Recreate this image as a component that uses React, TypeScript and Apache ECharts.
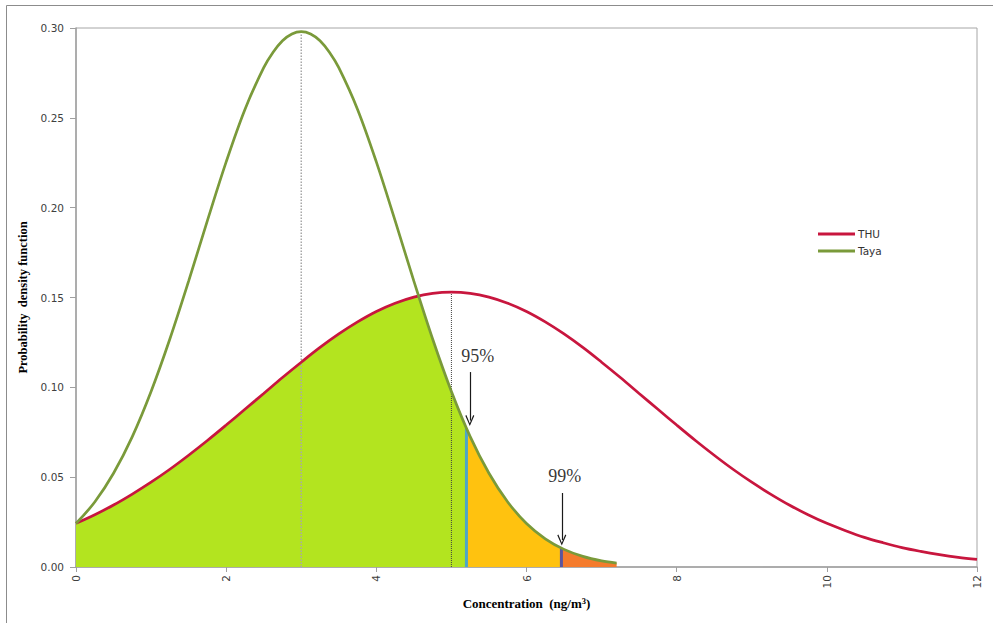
import React, { useEffect, useRef } from "react";
import * as echarts from "echarts";

// Concentration grid (ng/m3)
const thuConc = [0, 0.25, 0.5, 0.75, 1, 1.25, 1.5, 1.75, 2, 2.25, 2.5, 2.75, 3, 3.25, 3.5, 3.75, 4, 4.25, 4.5, 4.75, 5, 5.25, 5.5, 5.75, 6, 6.25, 6.5, 6.75, 7, 7.25, 7.5, 7.75, 8, 8.25, 8.5, 8.75, 9, 9.25, 9.5, 9.75, 10, 10.25, 10.5, 10.75, 11, 11.25, 11.5, 11.75, 12];
const thuPdf = [0.0243, 0.0291, 0.0345, 0.0406, 0.0472, 0.0544, 0.0622, 0.0704, 0.079, 0.0878, 0.0966, 0.1055, 0.114, 0.1222, 0.1297, 0.1364, 0.1422, 0.1468, 0.1502, 0.1523, 0.153, 0.1523, 0.1502, 0.1468, 0.1422, 0.1364, 0.1297, 0.1222, 0.114, 0.1055, 0.0966, 0.0878, 0.079, 0.0704, 0.0622, 0.0544, 0.0472, 0.0406, 0.0345, 0.0291, 0.0243, 0.0202, 0.0165, 0.0135, 0.0108, 0.0087, 0.0069, 0.0054, 0.0042];

const tayaConc = [0, 0.25, 0.5, 0.75, 1, 1.25, 1.5, 1.75, 2, 2.25, 2.5, 2.625, 2.75, 2.875, 3, 3.125, 3.25, 3.375, 3.5, 3.75, 4, 4.25, 4.5, 4.75, 5, 5.25, 5.5, 5.75, 6, 6.25, 6.5, 6.75, 7, 7.2];
const tayaPdf = [0.0242, 0.0362, 0.0522, 0.0726, 0.0977, 0.1269, 0.1591, 0.1928, 0.2255, 0.2547, 0.2779, 0.2865, 0.2929, 0.2967, 0.298, 0.2967, 0.2929, 0.2865, 0.2779, 0.2547, 0.2255, 0.1928, 0.1591, 0.1269, 0.0977, 0.0726, 0.0522, 0.0362, 0.0242, 0.0157, 0.0098, 0.0059, 0.0034, 0.0022];

// Crossing of the two curves
const crossConc = 4.565;
const crossPdf = 0.1509;

// Percentile cuts (95%, 99%) on the Taya curve
const cutLabels = ["95%", "99%"];
const cutConc = [5.2, 6.465];
const cutPdf = [0.0773, 0.0105];

// Modes (dotted verticals)
const modeConc = [3, 5];
const modePdf = [0.298, 0.153];

// Axis ticks
const xTicks = [0, 2, 4, 6, 8, 10, 12];
const yTicks = [0, 0.05, 0.1, 0.15, 0.2, 0.25, 0.3];

const seriesNames = ["THU", "Taya"];

const pairs = (xs: number[], ys: number[]) => xs.map((x, i) => [x, ys[i]]);

export default function App() {
  const ref = useRef<HTMLDivElement>(null);

  useEffect(() => {
    document.body.style.margin = "0";
    if (!ref.current) return;
    const chart = echarts.init(ref.current, undefined, { renderer: "svg" });

    const thu = pairs(thuConc, thuPdf);
    const taya = pairs(tayaConc, tayaPdf);

    const greenFill = [
      ...thu.filter((p) => p[0] < crossConc),
      [crossConc, crossPdf],
      ...taya.filter((p) => p[0] > crossConc && p[0] < cutConc[0]),
      [cutConc[0], cutPdf[0]],
    ];
    const yellowFill = [
      [cutConc[0], cutPdf[0]],
      ...taya.filter((p) => p[0] > cutConc[0] && p[0] < cutConc[1]),
      [cutConc[1], cutPdf[1]],
    ];
    const orangeFill = [
      [cutConc[1], cutPdf[1]],
      ...taya.filter((p) => p[0] > cutConc[1]),
    ];

    const fill = (data: number[][], color: string) => ({
      type: "line",
      data,
      symbol: "none",
      silent: true,
      lineStyle: { width: 0, opacity: 0 },
      areaStyle: { color, opacity: 1 },
      z: 1,
    });

    const vline = (x: number, y: number, color: string, width: number, type: string, z: number) => ({
      type: "line",
      data: [
        [x, 0],
        [x, y],
      ],
      symbol: "none",
      silent: true,
      lineStyle: { color, width, type },
      z,
    });

    const labelFont = "DejaVu Sans";
    const serif = "Liberation Serif";
    const chevron = "path://M5,0 L10,10 L8.8,10.6 L5,2.6 L1.2,10.6 L0,10 Z";

    chart.setOption({
      animation: false,
      backgroundColor: "#ffffff",
      grid: {
        left: 76,
        top: 28,
        right: 16,
        bottom: 56,
        show: true,
        borderColor: "#a6a6a6",
        borderWidth: 1,
        backgroundColor: "transparent",
      },
      legend: {
        orient: "vertical",
        left: 818,
        top: 227,
        padding: 0,
        data: seriesNames.map((n) => ({ name: n, icon: "rect" })),
        itemWidth: 37,
        itemHeight: 3,
        itemGap: 3,
        textStyle: { fontFamily: labelFont, fontSize: 10.5, color: "#333", lineHeight: 14, padding: [0, 0, 0, -2] },
      },
      xAxis: {
        type: "value",
        min: 0,
        max: 12,
        interval: 2,
        name: "Concentration  (ng/m{sup|3})",
        nameLocation: "middle",
        nameGap: 27,
        nameTextStyle: {
          fontFamily: serif,
          fontWeight: "bold",
          fontSize: 13,
          color: "#000",
          rich: { sup: { fontFamily: serif, fontWeight: "bold", fontSize: 8.5, verticalAlign: "top", padding: [0, 0, 5, 0], color: "#000" } },
        },
        axisLine: { lineStyle: { color: "#a0a0a0", width: 1.5 } },
        axisTick: { show: true, length: 5, lineStyle: { color: "#a0a0a0" } },
        axisLabel: {
          rotate: 90,
          margin: 8,
          fontFamily: labelFont,
          fontSize: 10.5,
          color: "#404040",
          customValues: xTicks,
        },
        splitLine: { show: false },
      },
      yAxis: {
        type: "value",
        min: 0,
        max: 0.3,
        interval: 0.05,
        name: "Probability  density function",
        nameLocation: "middle",
        nameGap: 39,
        nameTextStyle: { fontFamily: serif, fontWeight: "bold", fontSize: 12.5, color: "#000" },
        axisLine: { show: true, lineStyle: { color: "#a0a0a0", width: 1.5 } },
        axisTick: { show: true, length: 6, lineStyle: { color: "#a0a0a0" } },
        axisLabel: {
          margin: 12,
          fontFamily: labelFont,
          fontSize: 10.5,
          color: "#404040",
          customValues: yTicks,
          formatter: (v: number) => v.toFixed(2),
        },
        splitLine: { show: false },
      },
      graphic: [
        {
          type: "rect",
          shape: { x: 6.5, y: 5.5, width: 1100, height: 800 },
          style: { fill: "none", stroke: "#8c8c8c", lineWidth: 1 },
          silent: true,
          z: -1,
        },
      ],
      series: [
        fill(greenFill, "#b3e41f"),
        fill(yellowFill, "#ffc20f"),
        fill(orangeFill, "#f47b2c"),
        vline(modeConc[0], modePdf[0], "#a8a8a8", 1.5, "dotted", 2),
        vline(modeConc[1], modePdf[1], "#444444", 1, "dotted", 2),
        vline(cutConc[0], cutPdf[0], "#4da6c8", 3, "solid", 3),
        vline(cutConc[1], cutPdf[1], "#5b55a0", 3, "solid", 3),
        {
          name: seriesNames[0],
          type: "line",
          data: thu,
          smooth: 0.35,
          symbol: "none",
          color: "#c8163e",
          lineStyle: { color: "#c8163e", width: 2.7 },
          z: 5,
        },
        {
          name: seriesNames[1],
          type: "line",
          data: taya,
          smooth: 0.35,
          symbol: "none",
          color: "#7a9a3a",
          lineStyle: { color: "#7a9a3a", width: 2.7 },
          z: 5,
        },
        {
          type: "scatter",
          silent: true,
          symbolSize: 0,
          data: [
            { value: [5.35, 0.1175], name: cutLabels[0] },
            { value: [6.51, 0.0505], name: cutLabels[1] },
          ],
          label: {
            show: true,
            position: "inside",
            formatter: (p: any) => p.name,
            fontFamily: serif,
            fontSize: 18,
            color: "#000",
          },
          markLine: {
            silent: true,
            symbol: ["none", chevron],
            symbolSize: [9, 11],
            label: { show: false },
            lineStyle: { color: "#1a1a1a", width: 1.2, type: "solid" },
            data: [
              [{ coord: [5.245, 0.1085] }, { coord: [5.245, 0.0815] }],
              [{ coord: [6.47, 0.0412] }, { coord: [6.47, 0.015] }],
            ],
          },
          z: 6,
        },
      ],
    });

    return () => chart.dispose();
  }, []);

  return <div ref={ref} style={{ width: 993, height: 623 }} />;
}
